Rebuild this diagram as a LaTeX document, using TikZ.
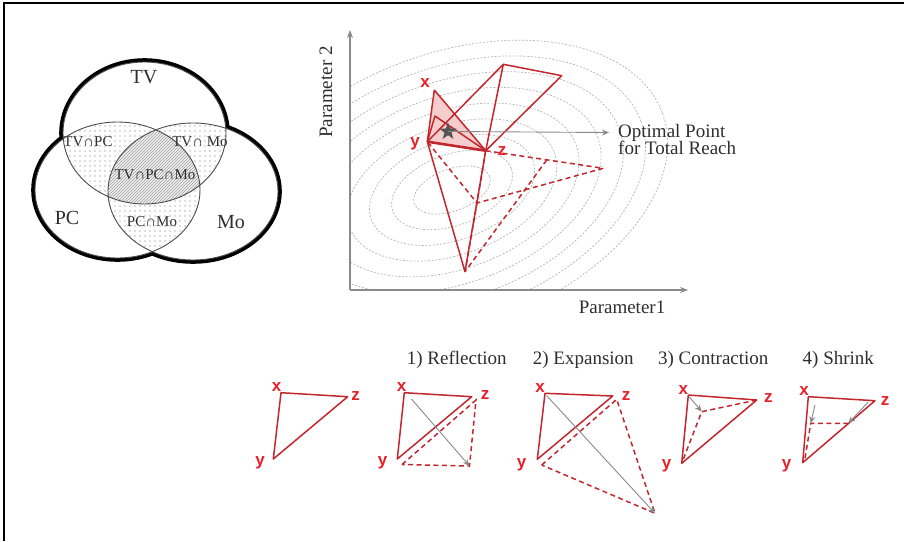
\documentclass[tikz,border=0pt]{standalone}
\usepackage{fontspec}
\setmainfont{Liberation Serif}
\newfontfamily\lblsans{Liberation Sans}
\usetikzlibrary{arrows.meta,shapes.geometric,patterns}
\definecolor{myred}{HTML}{C1272D}
\definecolor{lblred}{HTML}{E8202A}
\definecolor{axisgray}{HTML}{8A8A8A}
\definecolor{contourc}{HTML}{B5B5B5}
\definecolor{textc}{HTML}{2E2E2E}
\definecolor{pinkfill}{HTML}{F5CDCD}
\definecolor{starc}{HTML}{555555}
\pgfdeclarepatternformonly{sparsedots}{\pgfpoint{-1pt}{-1pt}}{\pgfpoint{1pt}{1pt}}{\pgfpoint{5pt}{5pt}}{\pgfpathcircle{\pgfpointorigin}{0.6pt}\pgfusepath{fill}}
\newcommand\bigtxt{\fontsize{19}{17.5}\selectfont}
\newcommand\venntxt{\fontsize{20}{22}\selectfont}
\newcommand\smalltxt{\fontsize{15}{17}\selectfont}
\newcommand\lbltxt{\lblsans\bfseries\fontsize{17}{19}\selectfont}
\tikzset{
  redline/.style={draw=myred, line width=1.5pt, line join=round},
  reddash/.style={draw=myred, line width=1.5pt, dash pattern=on 5pt off 3.5pt},
  grayarrow/.style={draw=axisgray, line width=0.9pt, -{Stealth[length=7pt,width=6pt]}},
  lbl/.style={text=lblred, font=\lbltxt, inner sep=0pt},
  ttl/.style={text=textc, font=\bigtxt, inner sep=0pt},
  vtxt/.style={text=textc, font=\venntxt, inner sep=0pt},
  stxt/.style={text=textc, font=\smalltxt, inner sep=0pt},
  contour/.style={draw=contourc, line width=0.7pt, dash pattern=on 2pt off 1.6pt},
}
\def\TVp{(144.5,133) ellipse [x radius=81.5, y radius=71]}
\def\PCp{(117.5,190) ellipse [x radius=82.5, y radius=68]}
\def\MOp{(193,191.5) ellipse [x radius=85, y radius=68.5]}
\begin{document}
\begin{tikzpicture}[x=1pt,y=-1pt]
\useasboundingbox (0,0) rectangle (904,541);
% frame
\coordinate (fbl) at (4,541);
\coordinate (ftl) at (4,3);
\coordinate (ftr) at (904,3);
\draw[line width=1.6pt] (fbl) -- (ftl) -- (ftr);

% ---------------- Venn diagram ----------------
\draw[line width=7.6pt] \TVp \PCp \MOp;
\fill[white] \TVp \PCp \MOp;
\begin{scope}
  \clip \TVp;
  \fill[pattern=sparsedots, pattern color=gray!90!black] \PCp;
  \fill[pattern=sparsedots, pattern color=gray!90!black] \MOp;
\end{scope}
\begin{scope}
  \clip \PCp;
  \fill[pattern=sparsedots, pattern color=gray!90!black] \MOp;
\end{scope}
\begin{scope}
  \clip \TVp;
  \clip \PCp;
  \fill[gray!12] \MOp;
  \fill[pattern=north east lines, pattern color=gray!75] \MOp;
\end{scope}
\draw[gray!60!black, line width=0.9pt] \TVp \PCp \MOp;
\node[vtxt] (tv) at (144,77) {TV};
\node[vtxt] (pc) at (67,218) {PC};
\node[vtxt] (mo) at (231,222) {Mo};
\node[stxt] (tvpc) at (88,142) {TV∩PC};
\node[stxt] (tvmo) at (200,142) {TV∩ Mo};
\node[stxt] (tvpcmo) at (155,175) {TV∩PC∩Mo};
\node[stxt] (pcmo) at (152,222) {PC∩Mo};

% ---------------- Parameter plot ----------------
\begin{scope}
  \clip (351,22) rectangle (700,289);
  \foreach \k in {0,...,8}{
    \draw[contour, rotate around={20:(452,190)}] (452,190) ellipse [x radius={40+23*\k}, y radius={21+14.5*\k}];
  }
\end{scope}
\coordinate (O) at (350,290);
\coordinate (ytop) at (350,30);
\coordinate (xend) at (688,290);
\draw[axisgray, line width=1.2pt, -{Stealth[length=8pt,width=6pt]}] (O) -- (ytop);
\draw[axisgray, line width=1.2pt, -{Stealth[length=8pt,width=6pt]}] (O) -- (xend);
\node[ttl, rotate=90] (p2) at (326,92) {Parameter 2};
\node[ttl] (p1) at (622,307) {Parameter1};

\coordinate (X) at (434.3,90);
\coordinate (Y) at (427.3,141.7);
\coordinate (Z) at (485.7,150.7);
\coordinate (C) at (435,116);
\coordinate (R) at (503.3,64.3);
\coordinate (E) at (561.7,75.7);
\coordinate (B) at (465,271.7);
\coordinate (D1) at (546.7,160);
\coordinate (D2) at (603.3,168.3);
\coordinate (M) at (477,203);
\fill[pinkfill] (X) -- (Y) -- (Z) -- cycle;
\draw[reddash] (Z) -- (D2) -- (M) -- (Y);
\draw[reddash] (D1) -- (B);
\draw[reddash] (Z) -- (M) -- (B);
\draw[redline] (X) -- (Y);
\draw[redline] (X) -- (Z);
\draw[redline] (Y) -- (C) -- (Z);
\draw[redline] (Y) -- (R) -- (Z);
\draw[redline] (R) -- (E) -- (Z);
\draw[redline] (Y) -- (B) -- (Z);
\draw[draw=myred, line width=2.6pt] (Y) -- (Z);
\node[lbl] (lx) at (425,83) {x};
\node[lbl] (ly) at (415,144) {y};
\node[lbl] (lz) at (502,151) {z};
\node[star, star points=5, star point ratio=2.4, fill=starc, minimum size=18pt, inner sep=0pt] (opt) at (448,131.5) {};
\coordinate (optend) at (609,132.5);
\draw[grayarrow] (opt.center) -- (optend);
\node[ttl, anchor=west, align=left] (optlbl) at (618,139.5) {Optimal Point\\for Total Reach};

% ---------------- Bottom row ----------------
% triangle 0
\coordinate (X0) at (281,392.7);
\coordinate (Z0) at (347.7,396.7);
\coordinate (Y0) at (273.3,459);
\draw[redline] (X0) -- (Z0) -- (Y0) -- cycle;
\node[lbl] (lx0) at (276.7,387.5) {x};
\node[lbl] (lz0) at (355.5,396) {z};
\node[lbl] (ly0) at (260,462.5) {y};

% triangle 1: reflection
\node[ttl] (t1) at (456.7,360) {1) Reflection};
\coordinate (X1) at (404.3,392.7);
\coordinate (Z1) at (471.7,396.7);
\coordinate (Y1) at (397.3,459);
\coordinate (Y1d) at (402,464.5);
\coordinate (Z1d) at (476,400);
\coordinate (R1) at (469.5,466);
\coordinate (A1) at (411.5,399);
\draw[redline] (X1) -- (Z1) -- (Y1) -- cycle;
\draw[reddash] (Y1d) -- (Z1d) -- (R1) -- cycle;
\draw[grayarrow] (A1) -- (R1);
\node[lbl] (lx1) at (401.7,387.5) {x};
\node[lbl] (lz1) at (485,395) {z};
\node[lbl] (ly1) at (382.7,462.5) {y};

% triangle 2: expansion
\node[ttl] (t2) at (583.3,360) {2) Expansion};
\coordinate (X2) at (545,393.3);
\coordinate (Z2) at (612.7,396);
\coordinate (Y2) at (537.3,459.3);
\coordinate (Y2d) at (541.7,465);
\coordinate (Z2d) at (616.7,399.3);
\coordinate (E2) at (655,513.3);
\coordinate (A2) at (546.5,395.5);
\draw[redline] (X2) -- (Z2) -- (Y2) -- cycle;
\draw[reddash] (Y2d) -- (Z2d) -- (E2) -- cycle;
\draw[grayarrow] (A2) -- (E2);
\node[lbl] (lx2) at (540,388) {x};
\node[lbl] (lz2) at (626,396.5) {z};
\node[lbl] (ly2) at (521.7,464.5) {y};

% triangle 3: contraction
\node[ttl] (t3) at (713.3,360) {3) Contraction};
\coordinate (X3) at (688.3,395);
\coordinate (Z3) at (756.7,400);
\coordinate (Y3) at (681.7,463.3);
\coordinate (C3) at (701.7,411.7);
\coordinate (A3) at (689.5,397);
\draw[redline] (X3) -- (Z3) -- (Y3) -- cycle;
\draw[reddash] (Z3) -- (C3) -- (Y3);
\draw[grayarrow] (A3) -- (C3);
\node[lbl] (lx3) at (683.3,390) {x};
\node[lbl] (lz3) at (768.3,398) {z};
\node[lbl] (ly3) at (666.7,466) {y};

% triangle 4: shrink
\node[ttl] (t4) at (838.3,360) {4) Shrink};
\coordinate (X4) at (808.3,396.7);
\coordinate (Z4) at (875,400.7);
\coordinate (Y4) at (802.7,462.7);
\coordinate (S1) at (810.7,423.3);
\coordinate (S2) at (848.3,423.3);
\coordinate (Y4d) at (804.5,461.5);
\coordinate (A4a) at (815,405);
\coordinate (A4b) at (868.3,402);
\draw[redline] (X4) -- (Z4) -- (Y4) -- cycle;
\draw[reddash] (S2) -- (S1) -- (Y4d);
\draw[grayarrow] (A4a) -- (S1);
\draw[grayarrow] (A4b) -- (S2);
\node[lbl] (lx4) at (804,391) {x};
\node[lbl] (lz4) at (885,401) {z};
\node[lbl] (ly4) at (786.7,466) {y};
\end{tikzpicture}
\end{document}
